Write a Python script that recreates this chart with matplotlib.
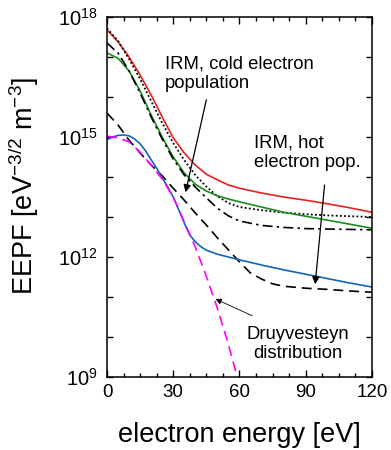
import numpy as np
import matplotlib
matplotlib.use("Agg")
import matplotlib.pyplot as plt
from matplotlib.ticker import MultipleLocator, FixedLocator, FuncFormatter, NullFormatter

plt.rcParams['font.family'] = ['Liberation Sans', 'DejaVu Sans']
plt.rcParams['mathtext.fontset'] = 'custom'
plt.rcParams['mathtext.rm'] = 'Liberation Sans'
plt.rcParams['mathtext.it'] = 'Liberation Sans:italic'
plt.rcParams['mathtext.default'] = 'regular'

# electron energy [eV] and log10(EEPF)
E_red = [0, 5, 10, 15, 20, 25, 30, 35, 40, 45, 50, 55, 60, 70, 80, 90, 100, 110, 120]
red = [17.68, 17.38, 17.0, 16.55, 16.05, 15.5, 14.98, 14.6, 14.3, 14.07, 13.93,
       13.8, 13.72, 13.6, 13.5, 13.42, 13.33, 13.23, 13.12]

E_dot = [0, 5, 10, 15, 20, 25, 30, 35, 40, 45, 50, 55, 60, 70, 80, 90, 100, 110, 120]
dotted = [17.72, 17.4, 16.95, 16.45, 15.9, 15.35, 14.85, 14.42, 14.05, 13.76, 13.52,
          13.35, 13.25, 13.17, 13.11, 13.07, 13.04, 13.02, 13.0]

E_green = [0, 5, 10, 15, 20, 25, 30, 35, 40, 45, 50, 55, 60, 70, 80, 90, 100, 110, 120]
green = [17.1, 16.97, 16.65, 16.15, 15.55, 15.0, 14.5, 14.1, 13.82, 13.65, 13.53,
         13.45, 13.38, 13.25, 13.12, 13.02, 12.92, 12.82, 12.72]

E_dd = [0, 5, 10, 15, 20, 25, 30, 35, 40, 45, 50, 55, 60, 70, 80, 90, 100, 110, 120]
dashdot = [17.35, 17.1, 16.65, 16.1, 15.5, 14.95, 14.45, 14.05, 13.75, 13.48, 13.22,
           13.03, 12.9, 12.79, 12.74, 12.71, 12.7, 12.69, 12.68]

E_dash = [0, 5, 10, 15, 20, 25, 30, 35, 40, 45, 50, 55, 60, 65, 70, 75, 80, 90, 100, 110, 120]
dashed = [15.6, 15.3, 14.92, 14.6, 14.3, 14.03, 13.72, 13.42, 13.1, 12.8, 12.48,
          12.18, 11.88, 11.6, 11.45, 11.33, 11.27, 11.22, 11.19, 11.15, 11.12]

E_blue = [0, 2.5, 5, 7.5, 10, 12.5, 15, 17.5, 20, 22.5, 25, 27.5, 30, 32.5, 35, 37.5,
          40, 42.5, 45, 50, 55, 60, 70, 80, 90, 100, 110, 120]
blue = [14.93, 15.0, 15.04, 15.05, 15.03, 14.95, 14.83, 14.65, 14.43, 14.22, 13.98,
        13.75, 13.5, 13.18, 12.85, 12.55, 12.38, 12.26, 12.17, 12.07, 12.0, 11.93,
        11.8, 11.68, 11.57, 11.46, 11.35, 11.25]

E_dru = [0, 5, 10, 15, 20, 25, 30, 35, 40, 45, 50, 55, 60]
druyv = [15.02, 14.98, 14.88, 14.62, 14.3, 13.95, 13.5, 12.88, 12.25, 11.52, 10.72, 9.82, 8.8]

fig = plt.figure(figsize=(3.91, 4.5), dpi=100)
ax = fig.add_axes([0.2737, 0.1622, 0.6773, 0.80])

lw = 1.2
ax.plot(E_red, 10 ** np.array(red), color='#e62020', lw=lw)
ax.plot(E_dot, 10 ** np.array(dotted), color='k', lw=1.3, dashes=(1, 1.3))
ax.plot(E_green, 10 ** np.array(green), color='#1a8c1a', lw=lw)
ax.plot(E_dd, 10 ** np.array(dashdot), color='k', lw=lw, dashes=(6, 2.5, 1.5, 2.5))
ax.plot(E_dash, 10 ** np.array(dashed), color='k', lw=lw, dashes=(6, 3.5))
ax.plot(E_blue, 10 ** np.array(blue), color='#1464b4', lw=lw)
ax.plot(E_dru, 10 ** np.array(druyv), color='#ff00ff', lw=lw, dashes=(6, 3.5))

ax.set_yscale('log')
ax.set_xlim(0, 120)
ax.set_ylim(1e9, 1e18)

ax.xaxis.set_major_locator(MultipleLocator(30))
ax.xaxis.set_minor_locator(MultipleLocator(7.5))
ax.yaxis.set_major_locator(FixedLocator([1e9, 1e12, 1e15, 1e18]))
ax.yaxis.set_minor_locator(FixedLocator([10.0 ** k for k in range(10, 18) if k % 3]))
ax.yaxis.set_major_formatter(FuncFormatter(lambda v, p: r'$10^{%d}$' % round(np.log10(v))))
ax.yaxis.set_minor_formatter(NullFormatter())

ax.tick_params(which='both', direction='in', top=True, right=True, width=1)
ax.tick_params(axis='x', which='major', length=5, pad=5, labelsize=13.5)
ax.tick_params(axis='x', which='minor', length=3)
ax.tick_params(axis='y', which='major', length=4, pad=7, labelsize=14.5)
ax.tick_params(axis='y', which='minor', length=4)
for s in ax.spines.values():
    s.set_linewidth(1.1)

ax.set_xlabel('electron energy [eV]', fontsize=19.5, labelpad=15)
ax.set_ylabel(r'EEPF [eV$^{-3/2}$ m$^{-3}$]', fontsize=19.5)
ax.yaxis.set_label_coords(-0.25, 0.53)

# annotations
ax.text(26.3, 10 ** 16.59, 'IRM, cold electron\npopulation', fontsize=13.3,
        ha='left', va='center')
ax.annotate('', xy=(35.3, 10 ** 13.55), xytext=(45.3, 10 ** 16.0),
            arrowprops=dict(arrowstyle='-|>', color='k', lw=0.9, mutation_scale=11))

ax.text(66.6, 10 ** 14.61, 'IRM, hot\nelectron pop.', fontsize=13.3,
        ha='left', va='center')
ax.annotate('', xy=(94.2, 10 ** 11.25), xytext=(98.7, 10 ** 13.87),
            arrowprops=dict(arrowstyle='-|>', color='k', lw=0.9, mutation_scale=11))

ax.text(86.5, 10 ** 9.825, 'Druyvesteyn\ndistribution', fontsize=13.3,
        ha='center', va='center')
ax.annotate('', xy=(48, 10 ** 10.98), xytext=(67, 10 ** 10.5),
            arrowprops=dict(arrowstyle='-|>', color='k', lw=0.6, mutation_scale=9))

fig.savefig('out.png', dpi=100)
